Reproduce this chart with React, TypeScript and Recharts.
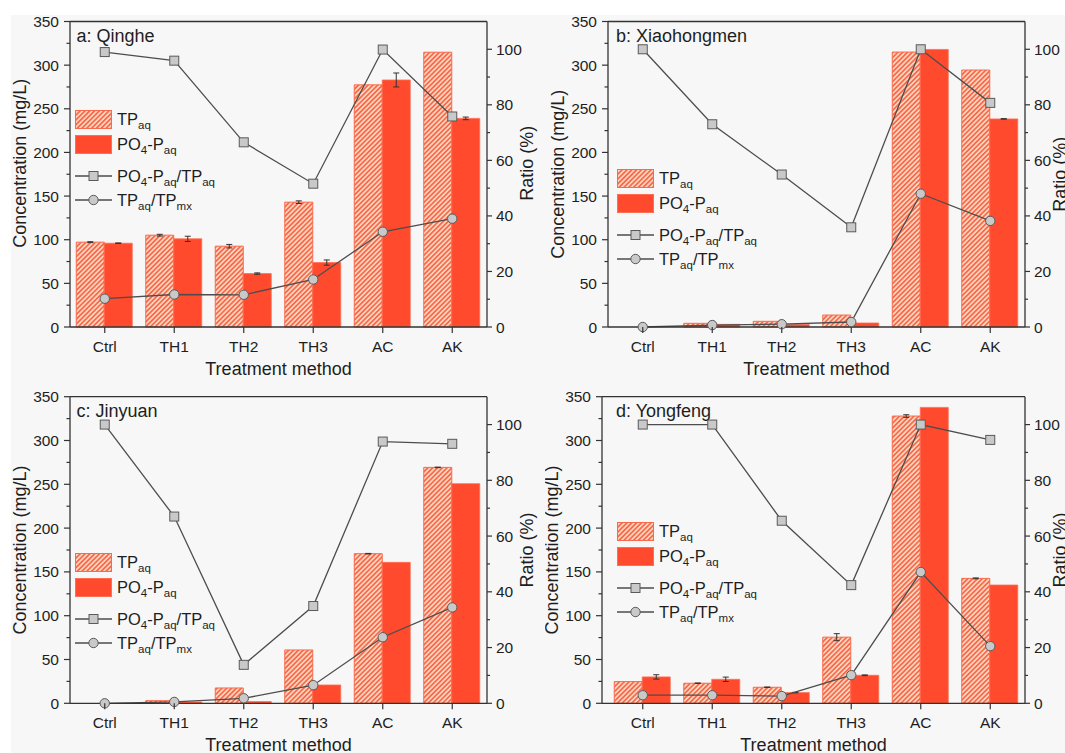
import React from "react";
import {
  ComposedChart,
  Bar,
  Line,
  XAxis,
  YAxis,
  ErrorBar,
  ReferenceLine,
  Legend,
  Label,
} from "recharts";

const FONT = '"Liberation Sans", Arial, sans-serif';
const AXIS = "#333333";
const TEXT = "#1e1e1e";
const SOLID = "#ff4a2d";
const SOLID_EDGE = "#ff6d52";
const HATCH_LINE = "#f76a4b";
const HATCH_BG = "#fdd4be";
const MARKER_FILL = "#c9c9c9";
const MARKER_STROKE = "#5a5a5a";
const LINE = "#4d4d4d";
const TICK_SIZE = 15.5;
const TITLE_SIZE = 18;

const categories = ["Ctrl", "TH1", "TH2", "TH3", "AC", "AK"];
const concTicks = [0, 25, 50, 75, 100, 125, 150, 175, 200, 225, 250, 275, 300, 325, 350];
const ratioTicks = [0, 10, 20, 30, 40, 50, 60, 70, 80, 90, 100];

// a: Qinghe
const qingheTP = [97.2, 105.2, 92.6, 143, 277.4, 314.8];
const qingheTPErr = [0.5, 1, 2, 1.5, 0, 0];
const qinghePO4 = [96, 101, 61.2, 73.8, 283, 239];
const qinghePO4Err = [0.3, 3, 0.8, 3, 8, 1.5];
const qinghePO4Ratio = [99, 95.9, 66.5, 51.6, 99.9, 75.8];
const qingheTPRatio = [10.2, 11.7, 11.6, 17.1, 34.3, 39];

// b: Xiaohongmen
const xhmTP = [0, 4.2, 6.5, 13.7, 315, 294.4];
const xhmTPErr = [0, 0, 0, 0, 0, 0];
const xhmPO4 = [0, 3, 3, 4.6, 318, 238.4];
const xhmPO4Err = [0, 0, 0, 0, 0, 0.3];
const xhmPO4Ratio = [100, 73, 54.9, 35.9, 100, 80.7];
const xhmTPRatio = [0, 0.7, 1, 1.8, 48, 38.2];

// c: Jinyuan
const jyTP = [0, 3, 17.5, 60.9, 170.8, 269.3];
const jyTPErr = [0, 0, 0, 0, 0.3, 0.3];
const jyPO4 = [0, 1.5, 2, 20.9, 160.9, 250.7];
const jyPO4Err = [0, 0, 0, 0, 0, 0];
const jyPO4Ratio = [100, 67, 13.8, 34.9, 93.9, 93.1];
const jyTPRatio = [0, 0.5, 1.8, 6.5, 23.7, 34.4];

// d: Yongfeng
const yfTP = [24.8, 22.9, 18.3, 75.5, 327.9, 142.6];
const yfTPErr = [0, 0.3, 0.3, 4, 1.5, 0.5];
const yfPO4 = [30.1, 27.4, 12.2, 32, 337.8, 135];
const yfPO4Err = [2.5, 2.5, 0.3, 0.4, 0, 0];
const yfPO4Ratio = [100, 100, 65.5, 42.4, 100, 94.5];
const yfTPRatio = [2.9, 2.9, 2.6, 10.1, 47.1, 20.5];

function buildRows(tp: number[], tpErr: number[], po4: number[], po4Err: number[], r1: number[], r2: number[]) {
  return categories.map((cat, i) => ({
    cat,
    tp: tp[i],
    tpErr: tpErr[i],
    po4: po4[i],
    po4Err: po4Err[i],
    po4Ratio: r1[i],
    tpRatio: r2[i],
  }));
}

const panels = [
  {
    id: "a", title: "a: Qinghe",
    rows: buildRows(qingheTP, qingheTPErr, qinghePO4, qinghePO4Err, qinghePO4Ratio, qingheTPRatio),
    x: 0, y: 0, w: 545, h: 380, top: 21.5, leftW: 70, rightW: 58, xH: 53, padLeft: 0,
    titleX: 6.5, legendX: 74.5, legendY: 110, yTitleDy: -11, ratioDx: 40,
  },
  {
    id: "b", title: "b: Xiaohongmen",
    rows: buildRows(xhmTP, xhmTPErr, xhmPO4, xhmPO4Err, xhmPO4Ratio, xhmTPRatio),
    x: 545, y: 0, w: 520, h: 380, top: 21.5, leftW: 63, rightW: 40, xH: 53, padLeft: 0,
    titleX: 8, legendX: 72, legendY: 169, yTitleDy: 0, ratioDx: 35,
  },
  {
    id: "c", title: "c: Jinyuan",
    rows: buildRows(jyTP, jyTPErr, jyPO4, jyPO4Err, jyPO4Ratio, jyTPRatio),
    x: 0, y: 380, w: 545, h: 373, top: 16.7, leftW: 70, rightW: 58, xH: 49.7, padLeft: 0,
    titleX: 6.5, legendX: 74.5, legendY: 173, yTitleDy: 0, ratioDx: 40,
  },
  {
    id: "d", title: "d: Yongfeng",
    rows: buildRows(yfTP, yfTPErr, yfPO4, yfPO4Err, yfPO4Ratio, yfTPRatio),
    x: 545, y: 380, w: 520, h: 373, top: 16.7, leftW: 57, rightW: 40, xH: 49.7, padLeft: 6,
    titleX: 14, legendX: 72, legendY: 142, yTitleDy: 0, ratioDx: 35,
  },
];

const textProps = { fontFamily: FONT, fill: TEXT };

function ConcTick(props: any) {
  const { x, y, payload } = props;
  const major = payload.value % 50 === 0;
  return (
    <g>
      <line x1={x} x2={x - (major ? 6 : 3.5)} y1={y} y2={y} stroke={AXIS} strokeWidth={1.2} />
      {major ? (
        <text x={x - 11} y={y} dy={5.5} textAnchor="end" fontSize={TICK_SIZE} {...textProps}>
          {payload.value}
        </text>
      ) : null}
    </g>
  );
}

function RatioTick(props: any) {
  const { x, y, payload } = props;
  const major = payload.value % 20 === 0;
  return (
    <g>
      <line x1={x} x2={x + (major ? 5 : 3)} y1={y} y2={y} stroke={AXIS} strokeWidth={1.2} />
      {major ? (
        <text x={x + 9} y={y} dy={5.5} textAnchor="start" fontSize={TICK_SIZE} {...textProps}>
          {payload.value}
        </text>
      ) : null}
    </g>
  );
}

function CatTick(props: any) {
  const { x, y, payload } = props;
  return (
    <g>
      <line x1={x} x2={x} y1={y} y2={y + 6} stroke={AXIS} strokeWidth={1.2} />
      <text x={x} y={y + 24.5} textAnchor="middle" fontSize={TICK_SIZE} {...textProps}>
        {payload.value}
      </text>
    </g>
  );
}

const squareDot = (props: any) => {
  const { cx, cy, index } = props;
  if (cx == null || cy == null) return <g key={`sq-${index}`} />;
  return (
    <rect
      key={`sq-${index}`}
      x={cx - 4.5}
      y={cy - 4.5}
      width={9}
      height={9}
      fill={MARKER_FILL}
      stroke={MARKER_STROKE}
      strokeWidth={1}
    />
  );
};

const SUB = 11.5;
const LEG = 16.5;

function LegendBox({ hatchId }: { hatchId: string }) {
  const tx = 42;
  const t = { fontSize: LEG, ...textProps };
  return (
    <svg width={180} height={104} style={{ display: "block", overflow: "visible" }}>
      <rect x={0.5} y={0.5} width={36} height={18} fill={`url(#${hatchId})`} stroke={HATCH_LINE} />
      <text x={tx} y={15} {...t}>
        TP<tspan dy={4} fontSize={SUB}>aq</tspan>
      </text>
      <rect x={0.5} y={25.5} width={36} height={18} fill={SOLID} stroke={SOLID_EDGE} />
      <text x={tx} y={40} {...t}>
        PO<tspan dy={4} fontSize={SUB}>4</tspan>
        <tspan dy={-4}>-P</tspan>
        <tspan dy={4} fontSize={SUB}>aq</tspan>
      </text>
      <line x1={0} x2={37} y1={66} y2={66} stroke={LINE} strokeWidth={1.3} />
      <rect x={14} y={61.5} width={9} height={9} fill={MARKER_FILL} stroke={MARKER_STROKE} />
      <text x={tx} y={72} {...t}>
        PO<tspan dy={4} fontSize={SUB}>4</tspan>
        <tspan dy={-4}>-P</tspan>
        <tspan dy={4} fontSize={SUB}>aq</tspan>
        <tspan dy={-4}>/TP</tspan>
        <tspan dy={4} fontSize={SUB}>aq</tspan>
      </text>
      <line x1={0} x2={37} y1={90} y2={90} stroke={LINE} strokeWidth={1.3} />
      <circle cx={18.5} cy={90} r={4.7} fill={MARKER_FILL} stroke={MARKER_STROKE} />
      <text x={tx} y={96} {...t}>
        TP<tspan dy={4} fontSize={SUB}>aq</tspan>
        <tspan dy={-4}>/TP</tspan>
        <tspan dy={4} fontSize={SUB}>mx</tspan>
      </text>
    </svg>
  );
}

function Panel({ p }: { p: (typeof panels)[number] }) {
  const hatchId = `hatch-${p.id}`;
  return (
    <div style={{ position: "absolute", left: p.x, top: p.y }}>
      <ComposedChart
        width={p.w}
        height={p.h}
        data={p.rows}
        margin={{ top: p.top, right: 0, bottom: 0, left: 0 }}
        barCategoryGap="9%"
        barGap={0}
      >
        <defs>
          <pattern id={hatchId} patternUnits="userSpaceOnUse" width={3.4} height={3.4} patternTransform="rotate(45)">
            <rect width={3.4} height={3.4} fill={HATCH_BG} />
            <line x1={0.85} y1={0} x2={0.85} y2={3.4} stroke={HATCH_LINE} strokeWidth={1.7} />
          </pattern>
        </defs>
        <XAxis
          dataKey="cat"
          height={p.xH}
          interval={0}
          tickLine={false}
          tickSize={0}
          tickMargin={0}
          tick={<CatTick />}
          padding={{ left: p.padLeft, right: 0 }}
          axisLine={{ stroke: AXIS, strokeWidth: 1.3 }}
        >
          <Label
            content={(lp: any) => {
              const vb = lp.viewBox;
              return (
                <text x={vb.x + vb.width / 2} y={vb.y + 48} textAnchor="middle" fontSize={TITLE_SIZE} {...textProps}>
                  Treatment method
                </text>
              );
            }}
          />
        </XAxis>
        <YAxis
          yAxisId="left"
          domain={[0, 350]}
          ticks={concTicks}
          width={p.leftW}
          interval={0}
          tickLine={false}
          tickSize={0}
          tickMargin={0}
          tick={<ConcTick />}
          axisLine={{ stroke: AXIS, strokeWidth: 1.3 }}
        >
          <Label
            content={(lp: any) => {
              const vb = lp.viewBox;
              const cx = vb.x + vb.width - 50;
              const cy = vb.y + vb.height / 2 + p.yTitleDy;
              return (
                <text
                  x={cx}
                  y={cy}
                  transform={`rotate(-90 ${cx} ${cy})`}
                  textAnchor="middle"
                  dominantBaseline="central"
                  fontSize={TITLE_SIZE}
                  {...textProps}
                >
                  Concentration (mg/L)
                </text>
              );
            }}
          />
        </YAxis>
        <YAxis
          yAxisId="right"
          orientation="right"
          domain={[0, 110]}
          ticks={ratioTicks}
          width={p.rightW}
          interval={0}
          tickLine={false}
          tickSize={0}
          tickMargin={0}
          tick={<RatioTick />}
          axisLine={{ stroke: AXIS, strokeWidth: 1.3 }}
        >
          <Label
            content={(lp: any) => {
              const vb = lp.viewBox;
              const cx = vb.x + p.ratioDx;
              const cy = vb.y + vb.height / 2 + p.yTitleDy;
              return (
                <text
                  x={cx}
                  y={cy}
                  transform={`rotate(-90 ${cx} ${cy})`}
                  textAnchor="middle"
                  dominantBaseline="central"
                  fontSize={TITLE_SIZE}
                  {...textProps}
                >
                  Ratio (%)
                </text>
              );
            }}
          />
        </YAxis>
        <ReferenceLine
          yAxisId="left"
          y={350}
          stroke={AXIS}
          strokeWidth={1.3}
          label={(lp: any) => {
            const vb = lp.viewBox;
            return (
              <text x={vb.x + p.titleX} y={vb.y + 20} fontSize={TITLE_SIZE} {...textProps}>
                {p.title}
              </text>
            );
          }}
        />
        <Bar
          yAxisId="left"
          dataKey="tp"
          name="TPaq"
          fill={`url(#${hatchId})`}
          stroke={HATCH_LINE}
          strokeWidth={1}
          isAnimationActive={false}
        >
          <ErrorBar dataKey="tpErr" width={3} stroke={AXIS} strokeWidth={1} />
        </Bar>
        <Bar
          yAxisId="left"
          dataKey="po4"
          name="PO4-Paq"
          fill={SOLID}
          stroke={SOLID_EDGE}
          strokeWidth={0.8}
          isAnimationActive={false}
        >
          <ErrorBar dataKey="po4Err" width={3} stroke={AXIS} strokeWidth={1} />
        </Bar>
        <Line
          yAxisId="right"
          dataKey="po4Ratio"
          name="PO4-Paq/TPaq"
          stroke={LINE}
          strokeWidth={1.3}
          dot={squareDot}
          isAnimationActive={false}
        />
        <Line
          yAxisId="right"
          dataKey="tpRatio"
          name="TPaq/TPmx"
          stroke={LINE}
          strokeWidth={1.3}
          dot={{ r: 4.7, fill: MARKER_FILL, stroke: MARKER_STROKE, strokeWidth: 1 }}
          isAnimationActive={false}
        />
        <Legend
          layout="vertical"
          align="center"
          verticalAlign="middle"
          wrapperStyle={{ left: p.legendX, top: p.legendY, width: "auto", height: "auto" }}
          content={() => <LegendBox hatchId={hatchId} />}
        />
      </ComposedChart>
    </div>
  );
}

export default function App() {
  return (
    <div style={{ position: "absolute", left: 0, top: 0, width: 1065, height: 753, background: "#ffffff", overflow: "hidden" }}>
      <div style={{ position: "absolute", left: 11, top: 15, right: 0, bottom: 0, background: "#f7f7f7" }} />
      {panels.map((p) => (
        <Panel key={p.id} p={p} />
      ))}
    </div>
  );
}
